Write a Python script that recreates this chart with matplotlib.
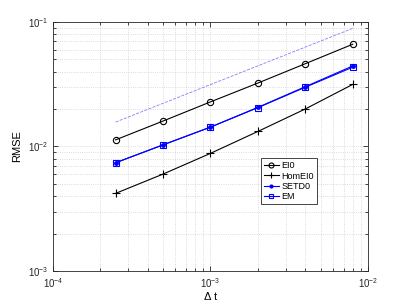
import numpy as np
import matplotlib
matplotlib.use('Agg')
import matplotlib.pyplot as plt
from matplotlib.ticker import LogLocator, FixedLocator

# Step sizes and errors
dt = [2.5e-4, 5e-4, 1e-3, 2e-3, 4e-3, 8e-3]
ei0 = [0.0113, 0.0160, 0.0228, 0.0323, 0.0462, 0.0662]
hom_ei0 = [0.0042, 0.0060, 0.0088, 0.0132, 0.0200, 0.0315]
setd0 = [0.0074, 0.0103, 0.0143, 0.0206, 0.0302, 0.0443]
em = [0.0074, 0.0103, 0.0143, 0.0205, 0.0299, 0.0433]

# Reference slope 1/2 line
ref_x = [2.5e-4, 8e-3]
ref_y = [0.0157, 0.0888]

plt.rcParams['font.family'] = ['Liberation Sans', 'DejaVu Sans']

fig = plt.figure(figsize=(4.07, 3.05), dpi=100)
ax = fig.add_axes([0.130, 0.1115, 0.774, 0.8165])

ax.loglog(ref_x, ref_y, '--', color=(0.5, 0.5, 1.0), lw=0.6)
ax.loglog(dt, ei0, 'k-o', lw=0.8, ms=4.5, mfc='none', mew=0.8, label='EI0')
ax.loglog(dt, hom_ei0, 'k-+', lw=0.8, ms=6, mew=0.8, label='HomEI0')
ax.loglog(dt, setd0, '-o', color='blue', lw=0.8, ms=2.5, label='SETD0')
ax.loglog(dt, em, '-s', color='blue', lw=0.8, ms=4, mfc='none', mew=0.8,
          label='EM')

ax.set_xlim(1e-4, 1e-2)
ax.set_ylim(1e-3, 1e-1)

ax.xaxis.set_major_locator(FixedLocator([1e-4, 1e-3, 1e-2]))
ax.yaxis.set_major_locator(FixedLocator([1e-3, 1e-2, 1e-1]))
ax.xaxis.set_minor_locator(LogLocator(base=10, subs=np.arange(2, 10)))
ax.yaxis.set_minor_locator(LogLocator(base=10, subs=np.arange(2, 10)))

ax.grid(True, which='both', ls=':', color='#d0d0d0', lw=0.6)
ax.tick_params(which='both', direction='in', top=True, right=True,
               labelsize=7, colors='#262626', width=0.6)
ax.tick_params(which='major', length=3.5)
ax.tick_params(which='minor', length=2)
for s in ax.spines.values():
    s.set_color('#262626')
    s.set_linewidth(0.6)

ax.set_xlabel('Δ t', fontsize=8, labelpad=2)
ax.set_ylabel('RMSE', fontsize=8, labelpad=4)

leg = ax.legend(loc='lower left', bbox_to_anchor=(0.655, 0.26), fontsize=6.5,
                handlelength=1.6, handletextpad=0.3, borderpad=0.35,
                labelspacing=0.15, borderaxespad=0.2, fancybox=False,
                framealpha=1, markerscale=0.8)
leg.get_frame().set_edgecolor('#262626')
leg.get_frame().set_linewidth(0.6)

fig.savefig('out.png', dpi=100)
